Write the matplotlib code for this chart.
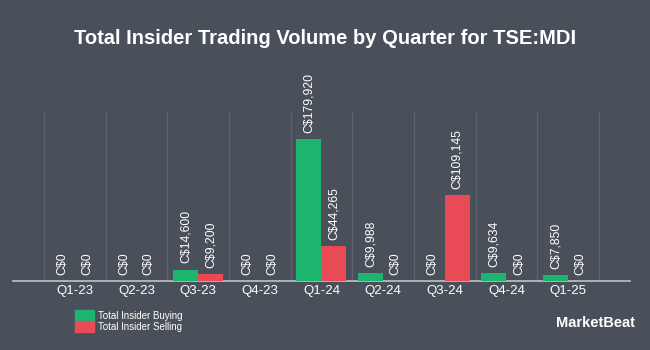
import matplotlib
matplotlib.use("Agg")
import matplotlib.pyplot as plt
from matplotlib.patches import Patch
import numpy as np

# quarters and insider volumes (C$)
quarters = ["Q1-23", "Q2-23", "Q3-23", "Q4-23", "Q1-24", "Q2-24", "Q3-24", "Q4-24", "Q1-25"]
buying = [0, 0, 14600, 0, 179920, 9988, 0, 9634, 7850]
selling = [0, 0, 9200, 0, 44265, 0, 109145, 0, 0]

bg = "#4a505a"
green = "#1db46f"
red = "#e84b56"
grid_col = "#5e646d"

plt.rcParams['font.family'] = ['Liberation Sans', 'DejaVu Sans']

fig = plt.figure(figsize=(6.5, 3.5), dpi=100, facecolor=bg)
ax = fig.add_axes([0.02, 0.197, 0.949, 0.483], facecolor=bg)

x = np.arange(len(quarters))
w = 0.405
b1 = ax.bar(x - w / 2, buying, w, color=green, zorder=3)
b2 = ax.bar(x + w / 2, selling, w, color=red, zorder=3)

# value labels above each bar
for bars, vals in ((b1, buying), (b2, selling)):
    for r, v in zip(bars, vals):
        ax.annotate("C${:,}".format(v), (r.get_x() + r.get_width() / 2, v),
                    xytext=(0, 4.5), textcoords="offset points", rotation=90,
                    ha="center", va="bottom", color="white", fontsize=8.8,
                    annotation_clip=False)

ax.set_xlim(-1, 9)
ax.set_ylim(0, 214000)
ax.set_xticks(x)
ax.set_xticklabels(quarters, color="white", fontsize=9.5)
ax.set_xticks(np.arange(len(quarters) + 1) - 0.5, minor=True)
ax.tick_params(axis="x", which="major", length=0, pad=3)
ax.tick_params(axis="x", which="minor", length=0)
ax.grid(axis="x", which="minor", color=grid_col, linewidth=1, zorder=0)
ax.set_yticks([])
for s in ("top", "right", "left"):
    ax.spines[s].set_visible(False)
ax.spines["bottom"].set_color("#bfc2c6")
ax.spines["bottom"].set_linewidth(1.2)

fig.text(0.5, 0.89, "Total Insider Trading Volume by Quarter for TSE:MDI",
         ha="center", va="center", color="white", fontsize=14.5,
         fontweight="bold", family=["Liberation Sans Narrow", "Liberation Sans", "DejaVu Sans"])

handles = [Patch(color=green, label="Total Insider Buying"),
           Patch(color=red, label="Total Insider Selling")]
leg = fig.legend(handles=handles, loc="upper left", bbox_to_anchor=(0.11, 0.125),
                 frameon=False, fontsize=7, handlelength=1.9, handleheight=1.3,
                 labelspacing=0.05, handletextpad=0.4, borderaxespad=0)
for t in leg.get_texts():
    t.set_color("white")

fig.text(0.977, 0.078, "MarketBeat", ha="right", va="center", color="white",
         fontsize=10.5, fontweight="bold")

fig.savefig("out.png", dpi=100, facecolor=bg)
